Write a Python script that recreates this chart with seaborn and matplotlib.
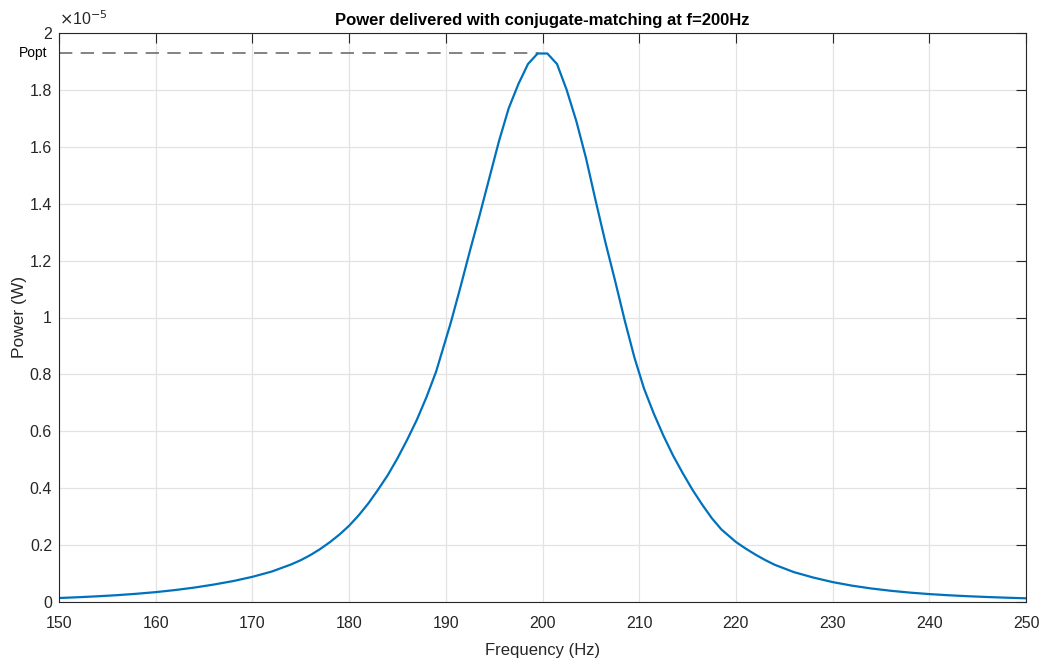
import matplotlib
matplotlib.use("Agg")
import matplotlib.pyplot as plt
import seaborn as sns
import numpy as np
from matplotlib.ticker import FuncFormatter

# Data (power in units of 1e-5 W)
freq = [150, 152, 154, 156, 158, 160, 162, 164, 166, 168, 170, 172, 174, 175, 176, 177,
        178, 179, 180, 181, 182, 183, 184, 185, 186, 187, 188, 189, 190.5, 191.5, 192.5,
        193.5, 194.5, 195.5, 196.5, 197.5, 198.5, 199.5, 200.5, 201.5, 202.5, 203.5,
        204.5, 205.5, 206.5, 207.5, 208.5, 209.5, 210.5, 211.5, 212.5, 213.5, 214.5,
        215.5, 216.5, 217.5, 218.5, 220, 221, 222, 223, 224, 226, 228, 230, 232, 234,
        236, 238, 240, 242, 244, 246, 248, 250]
power = [0.014, 0.0168, 0.0201, 0.024, 0.0289, 0.0347, 0.042, 0.0507, 0.0613, 0.0735,
         0.0885, 0.107, 0.132, 0.147, 0.165, 0.186, 0.21, 0.237, 0.268, 0.305, 0.347,
         0.395, 0.446, 0.505, 0.57, 0.64, 0.72, 0.81, 0.98, 1.105, 1.235, 1.36, 1.49,
         1.62, 1.735, 1.82, 1.891, 1.928, 1.928, 1.891, 1.80, 1.69, 1.56, 1.41, 1.265,
         1.13, 0.99, 0.86, 0.75, 0.663, 0.585, 0.515, 0.453, 0.395, 0.343, 0.295, 0.255,
         0.211, 0.188, 0.167, 0.148, 0.131, 0.105, 0.086, 0.070, 0.0575, 0.0475,
         0.0395, 0.033, 0.0278, 0.0237, 0.0203, 0.0175, 0.0151, 0.013]
x_ticks = [150, 160, 170, 180, 190, 200, 210, 220, 230, 240, 250]
y_ticks = [0, 0.2, 0.4, 0.6, 0.8, 1.0, 1.2, 1.4, 1.6, 1.8, 2.0]

title = "Power delivered with conjugate-matching at f=200Hz"
xlabel = "Frequency (Hz)"
ylabel = "Power (W)"

sns.set_theme(style="white")
plt.rcParams['font.family'] = ['Liberation Sans', 'DejaVu Sans']

fig = plt.figure(figsize=(10.43, 6.64), dpi=100)
ax = fig.add_axes([59/1043, 1 - 602/664, (1026-59)/1043, (602-33)/664])

sns.lineplot(x=freq, y=power, ax=ax, color="#0072BD", linewidth=1.6)

popt = max(power)
peak_f = freq[power.index(popt)]
ax.plot([freq[0], peak_f], [popt, popt], color="#6e6e6e", linewidth=1.2,
        linestyle=(0, (8, 5)), zorder=1)

ax.set_xlim(x_ticks[0], x_ticks[-1])
ax.set_ylim(y_ticks[0], y_ticks[-1])
ax.set_xticks(x_ticks)
ax.set_yticks(y_ticks)
ax.yaxis.set_major_formatter(FuncFormatter(lambda v, p: f"{v:g}"))

ax.grid(True, color="#e3e3e3", linewidth=0.9)
ax.set_axisbelow(True)
for s in ax.spines.values():
    s.set_visible(True)
    s.set_color("#262626")
    s.set_linewidth(0.8)
ax.tick_params(direction="in", length=7, width=0.8, color="#262626",
               labelsize=11.5, labelcolor="#262626", top=True, right=True,
               labeltop=False, labelright=False)
ax.tick_params(axis="x", pad=10)
ax.tick_params(axis="y", pad=5)

ax.set_title(title, fontsize=12, fontweight="bold", color="black", pad=6)
ax.set_xlabel(xlabel, fontsize=12, color="#262626", labelpad=9)
ax.set_ylabel(ylabel, fontsize=12.5, color="#262626", labelpad=2)

ax.text(0.0, 1.008, r"$\times$10$^{-5}$", transform=ax.transAxes, fontsize=11.5,
        color="#262626", ha="left", va="bottom")
ax.text(freq[0] - 1.2, popt, "Popt", fontsize=10, color="black", ha="right", va="center")

fig.savefig("out.png", dpi=100)
